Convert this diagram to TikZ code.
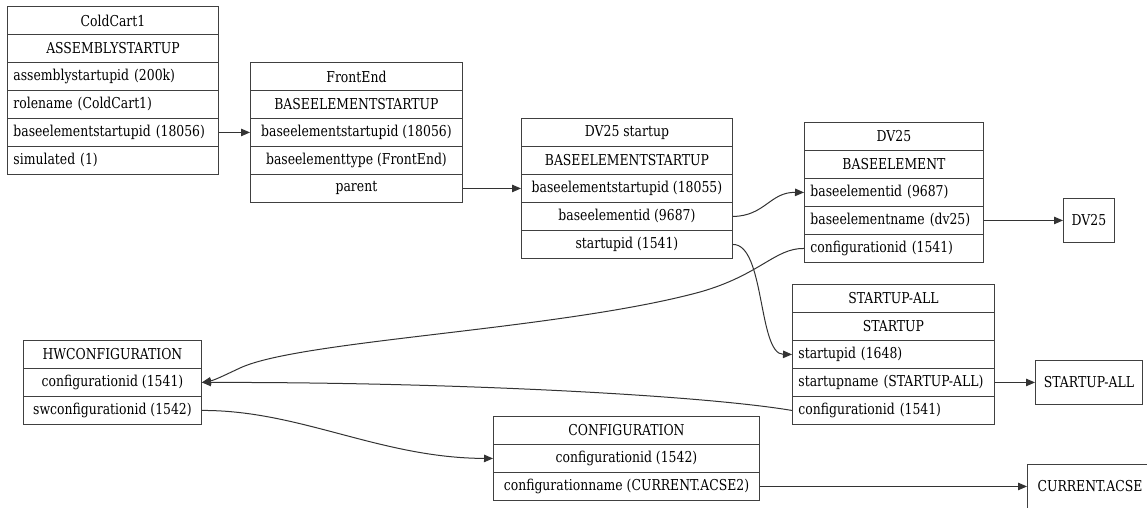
\documentclass[tikz,border=0pt]{standalone}
\usepackage{fontspec}
\setmainfont{DejaVu Serif Condensed}[FakeStretch=0.92]
\usetikzlibrary{arrows.meta}
\newcommand{\fs}{\fontsize{15}{17}\selectfont}
\tikzset{
  cell/.style={draw=black!75, line width=0.9pt, minimum height=28pt, inner xsep=6pt, inner ysep=0pt, anchor=north west, font=\fs, fill=white},
  cc/.style={cell, minimum width=#1},
  cl/.style={cell, text width=#1-12pt, align=left},
  leaf/.style={cell, minimum height=44pt, minimum width=#1},
  link/.style={draw=black!80, line width=1pt, -{Triangle[length=9pt,width=7.5pt]}}
}
\begin{document}
\begin{tikzpicture}[x=1pt,y=-1pt]
\useasboundingbox (0,0) rectangle (1147,507);
% ColdCart1
\node[cc=211pt] (cct) at (7,6) {ColdCart1};
\node[cc=211pt] (ccc) at (7,34) {ASSEMBLYSTARTUP};
\node[cl=211pt] (cca) at (7,62) {assemblystartupid (200k)};
\node[cl=211pt] (ccr) at (7,90) {rolename (ColdCart1)};
\node[cl=211pt] (ccb) at (7,118) {baseelementstartupid (18056)};
\node[cl=211pt] (ccs) at (7,146) {simulated (1)};
% FrontEnd
\node[cc=212pt] (fet) at (250,62) {FrontEnd};
\node[cc=212pt] (fec) at (250,90) {BASEELEMENTSTARTUP};
\node[cc=212pt] (feb) at (250,118) {baseelementstartupid (18056)};
\node[cc=212pt] (fey) at (250,146) {baseelementtype (FrontEnd)};
\node[cc=212pt] (fep) at (250,174) {parent};
% DV25 startup
\node[cc=211pt] (dst) at (521,118) {DV25 startup};
\node[cc=211pt] (dsc) at (521,146) {BASEELEMENTSTARTUP};
\node[cc=211pt] (dsb) at (521,174) {baseelementstartupid (18055)};
\node[cc=211pt] (dse) at (521,202) {baseelementid (9687)};
\node[cc=211pt] (dss) at (521,230) {startupid (1541)};
% DV25
\node[cc=179pt] (dvt) at (804,122) {DV25};
\node[cc=179pt] (dvc) at (804,150) {BASEELEMENT};
\node[cl=179pt] (dve) at (804,178) {baseelementid (9687)};
\node[cl=179pt] (dvn) at (804,206) {baseelementname (dv25)};
\node[cl=179pt] (dvf) at (804,234) {configurationid (1541)};
\node[leaf=51pt] (dvx) at (1063,198) {DV25};
% HWCONFIGURATION
\node[cc=178pt] (hwt) at (23,340) {HWCONFIGURATION};
\node[cc=178pt] (hwc) at (23,368) {configurationid (1541)};
\node[cc=178pt] (hws) at (23,396) {swconfigurationid (1542)};
% STARTUP-ALL
\node[cc=202pt] (sat) at (792,284) {STARTUP-ALL};
\node[cc=202pt] (sac) at (792,312) {STARTUP};
\node[cl=202pt] (sai) at (792,340) {startupid (1648)};
\node[cl=202pt] (san) at (792,368) {startupname (STARTUP-ALL)};
\node[cl=202pt] (saf) at (792,396) {configurationid (1541)};
\node[leaf=107pt] (sax) at (1035,360) {STARTUP-ALL};
% CONFIGURATION
\node[cc=266pt] (cft) at (493,416) {CONFIGURATION};
\node[cc=266pt] (cfi) at (493,444) {configurationid (1542)};
\node[cc=266pt] (cfn) at (493,472) {configurationname (CURRENT.ACSE2)};
\node[leaf=125pt] (cux) at (1027,464) {CURRENT.ACSE};
% edges
\draw[link] (ccb.east) -- (feb.west);
\draw[link] (fep.east) -- (dsb.west);
\draw[link] (dse.east) .. controls (765,216) and (770,192) .. (dve.west);
\draw[link] (dss.east) .. controls (765,244) and (758,354) .. (sai.west);
\draw[link] (dvn.east) -- (dvx.west);
\draw[link] (dvf.west) .. controls (775,248) and (760,275) .. (700,292)
   .. controls (560,330) and (300,340) .. (240,368)
   .. controls (225,375) and (215,380) .. (hwc.east);
\draw[link] (saf.west) .. controls (700,395) and (450,382) .. (hwc.east);
\draw[link] (hws.east) .. controls (300,410) and (380,458) .. (cfi.west);
\draw[link] (san.east) -- (sax.west);
\draw[link] (cfn.east) -- (cux.west);
\end{tikzpicture}
\end{document}
